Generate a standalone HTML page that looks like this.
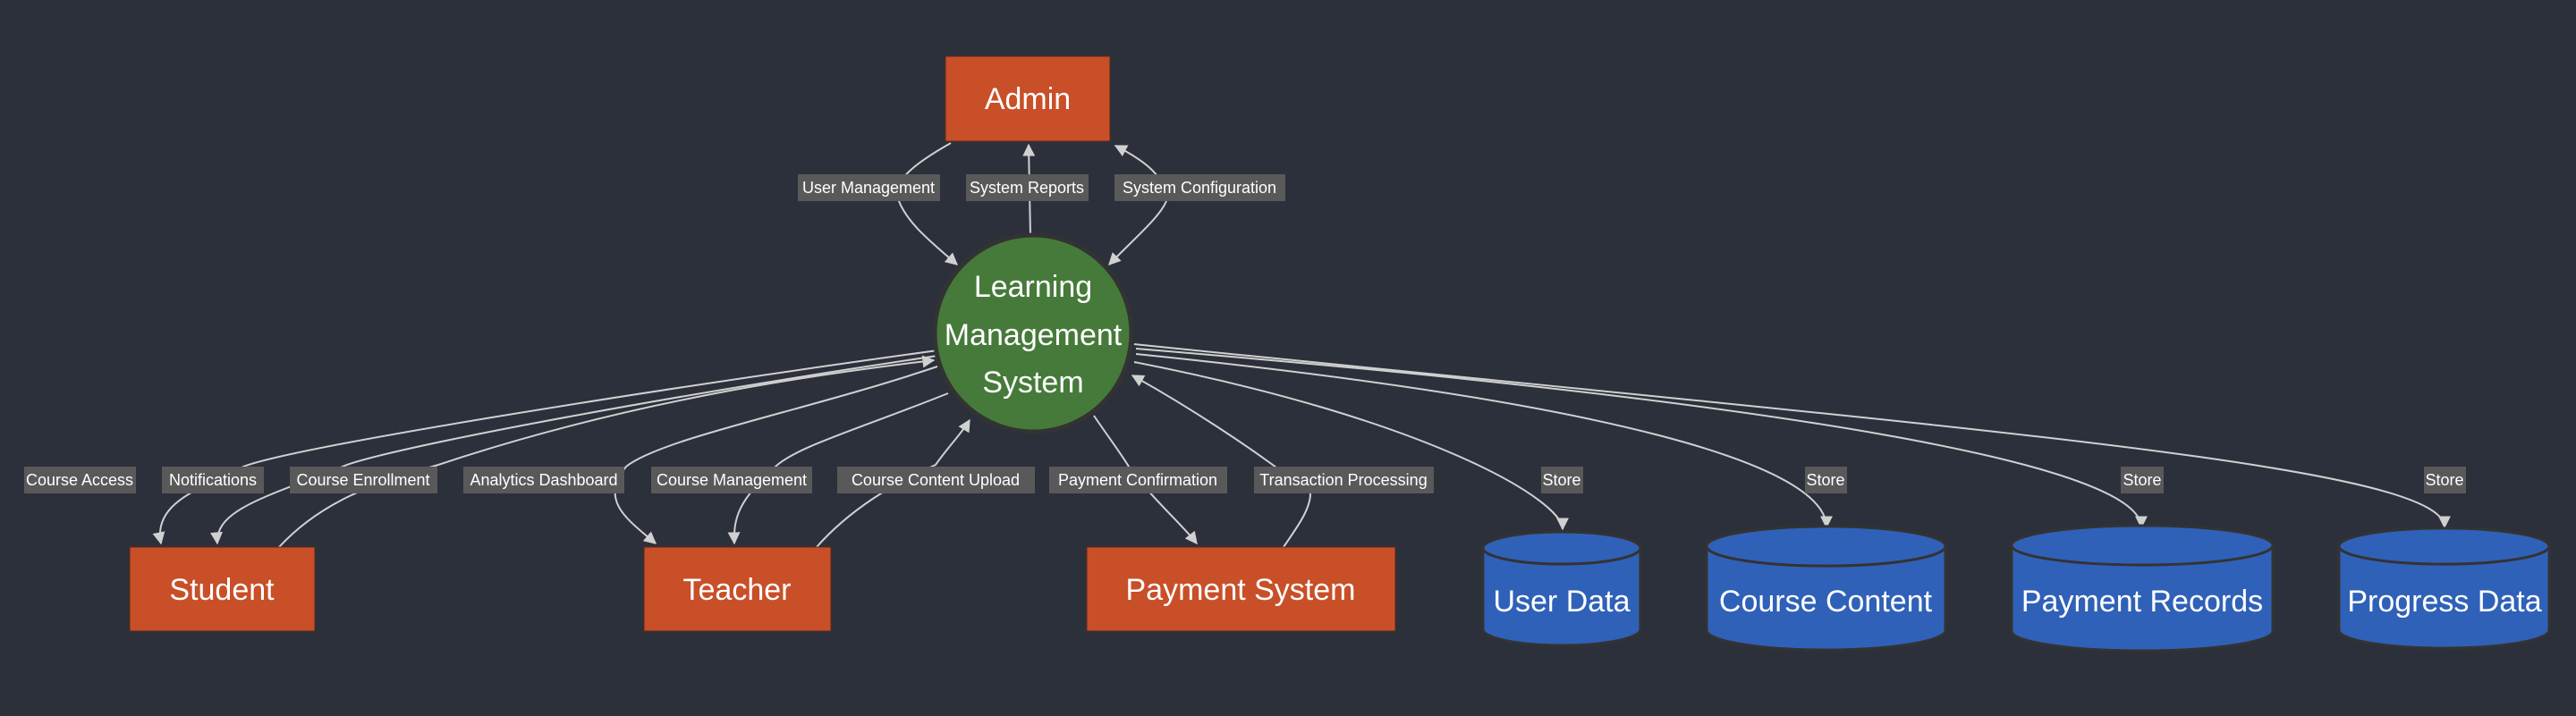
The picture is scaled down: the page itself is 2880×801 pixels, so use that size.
<!DOCTYPE html>
<html><head><meta charset="utf-8"><style>
html,body{margin:0;padding:0;background:#2c303b;}
svg{display:block}
text{font-family:"Liberation Sans",sans-serif;fill:#fff}
.lbl rect{fill:#595959}
.lbl text{font-size:18px}
.e{fill:none;stroke:#d0d0d0;stroke-width:2}
</style></head><body>
<svg width="2880" height="801" viewBox="0 0 2880 801" xmlns="http://www.w3.org/2000/svg">
<defs><marker id="a" viewBox="0 0 10 10" refX="9" refY="5" markerWidth="7" markerHeight="7" orient="auto-start-reverse"><path d="M0,0 L10,5 L0,10 z" fill="#d0d0d0"/></marker></defs>
<rect width="2880" height="801" fill="#2c303b"/>
<path class="e" marker-end="url(#a)" d="M1063,160 C1010,190 1000,205 1005,225 C1015,250 1040,270 1070,296"/>
<path class="e" marker-end="url(#a)" d="M1152,263 L1150,162"/>
<path class="e" marker-start="url(#a)" marker-end="url(#a)" d="M1240,296 C1270,265 1300,240 1305,222 C1300,195 1280,180 1247,163"/>
<path class="e" marker-end="url(#a)" d="M1048,392 C700,440 330,500 272,522 C230,545 170,560 180,608"/>
<path class="e" marker-end="url(#a)" d="M1048,398 C700,450 420,505 383,522 C300,555 240,570 243,608"/>
<path class="e" marker-end="url(#a)" d="M312,612 C360,560 420,540 490,520 C700,450 900,420 1044,403"/>
<path class="e" marker-end="url(#a)" d="M1048,410 C900,460 740,490 700,522 C670,560 700,580 733,608"/>
<path class="e" marker-end="url(#a)" d="M1060,440 C960,480 890,500 867,522 C825,560 820,580 821,608"/>
<path class="e" marker-end="url(#a)" d="M913,612 C950,570 1000,540 1046,520 C1060,500 1075,485 1084,470"/>
<path class="e" marker-end="url(#a)" d="M1223,465 C1240,490 1255,510 1262,522 C1290,560 1320,585 1338,608"/>
<path class="e" marker-end="url(#a)" d="M1435,612 C1450,590 1465,570 1465,552 C1400,500 1320,450 1266,420"/>
<path class="e" marker-end="url(#a)" d="M1268,405 C1600,470 1747,560 1747,592"/>
<path class="e" marker-end="url(#a)" d="M1270,396 C1800,450 2042,520 2042,590"/>
<path class="e" marker-end="url(#a)" d="M1270,390 C2000,450 2394,520 2394,590"/>
<path class="e" marker-end="url(#a)" d="M1268,385 C2200,480 2733,520 2733,590"/>
<g class="lbl">
<rect x="892" y="195" width="159" height="30"/><text x="971" y="216" text-anchor="middle">User Management</text>
<rect x="1080" y="195" width="137" height="30"/><text x="1148" y="216" text-anchor="middle">System Reports</text>
<rect x="1246" y="195" width="191" height="30"/><text x="1341" y="216" text-anchor="middle">System Configuration</text>
<rect x="27" y="522" width="125" height="30"/><text x="89" y="543" text-anchor="middle">Course Access</text>
<rect x="181" y="522" width="114" height="30"/><text x="238" y="543" text-anchor="middle">Notifications</text>
<rect x="324" y="522" width="165" height="30"/><text x="406" y="543" text-anchor="middle">Course Enrollment</text>
<rect x="518" y="522" width="180" height="30"/><text x="608" y="543" text-anchor="middle">Analytics Dashboard</text>
<rect x="728" y="522" width="180" height="30"/><text x="818" y="543" text-anchor="middle">Course Management</text>
<rect x="936" y="522" width="221" height="30"/><text x="1046" y="543" text-anchor="middle">Course Content Upload</text>
<rect x="1173" y="522" width="199" height="30"/><text x="1272" y="543" text-anchor="middle">Payment Confirmation</text>
<rect x="1402" y="522" width="201" height="30"/><text x="1502" y="543" text-anchor="middle">Transaction Processing</text>
<rect x="1723" y="522" width="47" height="30"/><text x="1746" y="543" text-anchor="middle">Store</text>
<rect x="2018" y="522" width="47" height="30"/><text x="2041" y="543" text-anchor="middle">Store</text>
<rect x="2371" y="522" width="48" height="30"/><text x="2395" y="543" text-anchor="middle">Store</text>
<rect x="2710" y="522" width="47" height="30"/><text x="2733" y="543" text-anchor="middle">Store</text>
</g>
<rect x="1057" y="63" width="184" height="95" fill="#c84f28" stroke="#5a2a1a" stroke-width="1"/>
<text x="1149" y="122" font-size="34" text-anchor="middle">Admin</text>
<circle cx="1155" cy="373" r="110" fill="#467a3a" stroke="#333" stroke-width="5"/>
<text x="1155" y="332" font-size="34" text-anchor="middle">Learning</text>
<text x="1155" y="386" font-size="34" text-anchor="middle">Management</text>
<text x="1155" y="439" font-size="34" text-anchor="middle">System</text>
<rect x="145" y="612" width="207" height="94" fill="#c84f28" stroke="#5a2a1a"/>
<text x="248" y="671" font-size="34" text-anchor="middle">Student</text>
<rect x="720" y="612" width="209" height="94" fill="#c84f28" stroke="#5a2a1a"/>
<text x="824" y="671" font-size="34" text-anchor="middle">Teacher</text>
<rect x="1215" y="612" width="345" height="94" fill="#c84f28" stroke="#5a2a1a"/>
<text x="1387" y="671" font-size="34" text-anchor="middle">Payment System</text>
<g fill="#3061b8" stroke="#333" stroke-width="3">
<path d="M1658,613 a88,18 0 0,1 176,0 v91 a88,18 0 0,1 -176,0 z"/><path fill="none" d="M1658,613 a88,18 0 0,0 176,0"/>
<path d="M1908,611 a133,22 0 0,1 267,0 v94 a133,22 0 0,1 -267,0 z"/><path fill="none" d="M1908,611 a133,22 0 0,0 267,0"/>
<path d="M2249,610 a146,22 0 0,1 292,0 v96 a146,22 0 0,1 -292,0 z"/><path fill="none" d="M2249,610 a146,22 0 0,0 292,0"/>
<path d="M2615,611 a117,20 0 0,1 235,0 v94 a117,20 0 0,1 -235,0 z"/><path fill="none" d="M2615,611 a117,20 0 0,0 235,0"/>
</g>
<text x="1746" y="684" font-size="34" text-anchor="middle">User Data</text>
<text x="2041" y="684" font-size="34" text-anchor="middle">Course Content</text>
<text x="2395" y="684" font-size="34" text-anchor="middle">Payment Records</text>
<text x="2733" y="684" font-size="34" text-anchor="middle">Progress Data</text>
</svg>
</body></html>
